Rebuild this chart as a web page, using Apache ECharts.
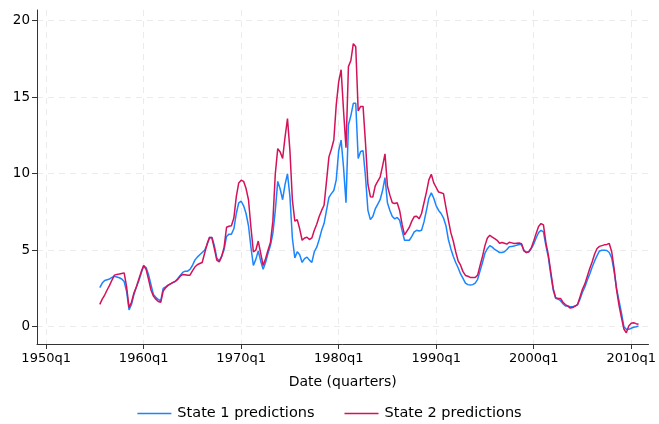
<!DOCTYPE html>
<html>
<head>
<meta charset="utf-8">
<script src="https://cdn.jsdelivr.net/npm/echarts@6/dist/echarts.min.js"></script>
<style>html,body{margin:0;padding:0;background:#fff;}#c{width:659px;height:424px;}</style>
</head>
<body>
<div id="c"></div>
<script>
// quarters counted from 1960q1 (Stata %tq); first observation 1955q3
const startQuarter = -18;
const xTickValues = [-40, 0, 40, 80, 120, 160, 200];
const yTickValues = [0, 5, 10, 15, 20];
const seriesNames = ['State 1 predictions', 'State 2 predictions'];

const state1 = [
 2.55,2.85,3.02,3.07,3.12,3.22,3.3,3.25,3.2,3.12,
 2.95,2.3,1.1,1.45,2.1,2.6,3.0,3.5,3.98,3.87,
 3.4,2.75,2.1,1.92,1.78,1.68,2.5,2.6,2.72,2.8,
 2.88,2.95,3.15,3.35,3.55,3.63,3.63,3.75,4.0,4.35,
 4.55,4.7,4.85,5.0,5.35,5.8,5.85,5.3,4.5,4.3,
 4.6,5.05,5.9,6.05,6.05,6.4,7.4,8.1,8.2,7.9,
 7.4,6.6,5.2,4.0,4.4,4.95,4.3,3.75,4.2,4.8,
 5.3,6.1,7.6,9.5,9.0,8.3,9.3,10.0,8.5,5.8,
 4.5,4.9,4.7,4.2,4.45,4.55,4.35,4.2,4.9,5.2,
 5.7,6.3,6.74,7.6,8.45,8.7,8.9,9.6,11.5,12.2,
 10.4,8.1,13.2,13.8,14.6,14.6,11.0,11.45,11.5,9.8,
 7.6,7.0,7.2,7.7,8.0,8.3,8.9,9.75,8.1,7.6,
 7.2,7.05,7.14,6.96,6.3,5.65,5.65,5.65,5.9,6.2,
 6.3,6.25,6.3,6.85,7.6,8.4,8.75,8.4,7.9,7.6,
 7.4,7.1,6.6,5.7,5.1,4.6,4.2,3.85,3.45,3.16,
 2.85,2.75,2.72,2.75,2.85,3.1,3.65,4.2,4.8,5.1,
 5.3,5.2,5.05,4.95,4.85,4.85,4.9,5.05,5.22,5.25,
 5.27,5.33,5.37,5.38,5.0,4.85,4.9,5.1,5.4,5.8,
 6.15,6.3,6.2,5.3,4.55,3.4,2.4,1.85,1.8,1.7,
 1.5,1.35,1.35,1.3,1.3,1.35,1.45,1.8,2.25,2.6,
 3.05,3.45,3.9,4.3,4.65,4.95,5.0,5.0,4.98,4.85,
 4.5,3.6,2.5,1.7,0.9,0.0,-0.17,-0.17,-0.1,-0.04,
 0.0,0.05
];
const state2 = [
 1.46,1.8,2.07,2.4,2.7,3.05,3.37,3.42,3.44,3.48,
 3.52,2.6,1.25,1.6,2.2,2.6,3.1,3.6,4.0,3.75,
 3.1,2.4,2.0,1.8,1.65,1.6,2.33,2.55,2.7,2.8,
 2.9,2.98,3.1,3.3,3.42,3.4,3.37,3.37,3.65,3.9,
 4.05,4.13,4.2,4.8,5.4,5.85,5.8,5.1,4.35,4.24,
 4.6,5.2,6.5,6.57,6.6,7.1,8.5,9.4,9.57,9.5,
 9.03,8.3,6.5,4.9,5.0,5.6,4.8,4.0,4.45,5.0,
 5.5,6.9,10.0,11.64,11.42,11.0,12.4,13.6,11.5,8.3,
 6.9,7.0,6.4,5.65,5.8,5.85,5.7,5.8,6.3,6.7,
 7.2,7.6,7.94,9.5,11.1,11.6,12.2,14.5,16.0,16.8,
 14.1,11.7,17.0,17.4,18.5,18.3,14.1,14.4,14.4,12.0,
 9.3,8.5,8.48,9.2,9.5,9.78,10.5,11.3,9.2,8.6,
 8.1,8.05,8.1,7.6,6.7,6.0,6.25,6.5,6.9,7.2,
 7.22,7.05,7.4,8.1,8.8,9.6,9.96,9.4,9.1,8.8,
 8.75,8.7,7.8,6.96,6.15,5.6,4.9,4.3,4.02,3.6,
 3.35,3.3,3.22,3.22,3.22,3.37,4.0,4.6,5.3,5.8,
 5.98,5.85,5.75,5.65,5.45,5.5,5.45,5.4,5.52,5.48,
 5.44,5.46,5.47,5.42,4.95,4.85,4.9,5.15,5.6,6.1,
 6.55,6.74,6.65,5.5,4.7,3.6,2.5,1.9,1.85,1.85,
 1.6,1.45,1.35,1.22,1.25,1.35,1.45,1.95,2.45,2.8,
 3.3,3.8,4.25,4.75,5.11,5.25,5.3,5.35,5.38,5.44,
 4.9,3.8,2.4,1.4,0.6,-0.15,-0.4,0.05,0.22,0.26,
 0.2,0.16
];

function toPairs(arr) { return arr.map((v, i) => [startQuarter + i, v]); }
function qLabel(t) { return (1960 + Math.floor(t / 4)) + 'q' + (((t % 4) + 4) % 4 + 1); }

const FONT = 'DejaVu Sans';
const chart = echarts.init(document.getElementById('c'), null, {renderer: 'canvas'});
chart.setOption({
  animation: false,
  backgroundColor: '#ffffff',
  grid: {left: 37, right: 8.6, top: 10, bottom: 80, containLabel: false},
  legend: {
    top: 401, left: 'center', icon: 'rect', itemWidth: 34, itemHeight: 1.5, itemGap: 30,
    textStyle: {fontFamily: FONT, fontSize: 14.5, color: '#000', padding: [0, 0, 0, 1]},
    data: seriesNames
  },
  xAxis: {
    type: 'value', min: -43.76, max: 207.1,
    name: 'Date (quarters)', nameLocation: 'middle', nameGap: 31,
    nameTextStyle: {fontFamily: FONT, fontSize: 14, color: '#000'},
    axisLine: {show: true, onZero: false, lineStyle: {color: '#333', width: 1}},
    axisTick: {show: true, length: 5, customValues: xTickValues, lineStyle: {color: '#333'}},
    axisLabel: {customValues: xTickValues, formatter: qLabel, margin: 8,
      fontFamily: FONT, fontSize: 13, color: '#000'},
    splitLine: {show: true, customValues: xTickValues, lineStyle: {color: '#ebebeb', type: [6, 5], width: 1}}
  },
  yAxis: {
    type: 'value', min: -1.13, max: 20.7,
    axisLine: {show: true, onZero: false, lineStyle: {color: '#333', width: 1}},
    axisTick: {show: true, length: 5, customValues: yTickValues, lineStyle: {color: '#333'}},
    axisLabel: {customValues: yTickValues, margin: 7, fontFamily: FONT, fontSize: 13.5, color: '#000'},
    splitLine: {show: true, customValues: yTickValues, lineStyle: {color: '#ebebeb', type: [6, 5], width: 1}}
  },
  series: [
    {name: seriesNames[0], type: 'line', data: toPairs(state1), symbol: 'none',
      lineStyle: {color: '#1a85ff', width: 1.5}, itemStyle: {color: '#1a85ff'}},
    {name: seriesNames[1], type: 'line', data: toPairs(state2), symbol: 'none',
      lineStyle: {color: '#d41159', width: 1.5}, itemStyle: {color: '#d41159'}}
  ]
});
</script>
</body>
</html>
